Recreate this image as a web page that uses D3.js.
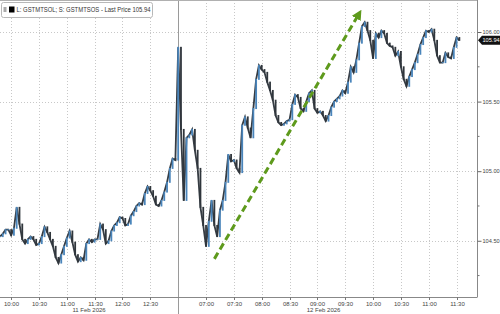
<!DOCTYPE html>
<html>
<head>
<meta charset="utf-8">
<script src="https://cdn.jsdelivr.net/npm/d3@7"></script>
<style>
body { margin: 0; background: #fff; }
svg { display: block; font-family: "Liberation Sans", Arial, sans-serif; }
</style>
</head>
<body>
<svg id="chart" width="500" height="314"></svg>
<script>
// two trading sessions shown back to back
var sessionDates = ["11 Feb 2026", "12 Feb 2026"];
var sessionStart = ["09:48", "06:30"];
var sessionEnd = ["13:00", "11:52"];
var barMinutes = 3;

// 3-minute closes
var day1Close = [104.53,104.55,104.58,104.58,104.54,104.59,104.74,104.62,104.51,104.48,
  104.51,104.53,104.51,104.47,104.48,104.53,104.60,104.56,104.51,104.46,
  104.38,104.34,104.40,104.46,104.52,104.57,104.49,104.40,104.35,104.38,
  104.36,104.48,104.51,104.49,104.51,104.51,104.62,104.58,104.48,104.50,
  104.57,104.61,104.63,104.67,104.66,104.61,104.62,104.68,104.71,104.75,
  104.77,104.76,104.84,104.89,104.86,104.82,104.76,104.75,104.79,104.85,
  104.92,105.02,105.09,105.08];
var day2Close = [105.89,105.30,104.79,105.24,105.26,105.30,105.15,105.02,104.74,104.61,
  104.46,104.64,104.79,104.61,104.53,104.72,104.79,104.92,105.12,105.07,
  105.08,105.02,104.99,105.33,105.39,105.31,105.24,105.45,105.66,105.76,
  105.73,105.71,105.64,105.58,105.51,105.40,105.35,105.33,105.34,105.36,
  105.37,105.48,105.55,105.53,105.45,105.43,105.50,105.56,105.58,105.45,
  105.42,105.43,105.40,105.36,105.40,105.46,105.50,105.52,105.54,105.58,
  105.56,105.64,105.75,105.71,105.80,105.92,106.04,106.07,106.01,105.94,
  105.81,105.99,105.96,106.01,105.99,105.92,105.90,105.89,105.83,105.86,
  105.75,105.66,105.61,105.68,105.73,105.78,105.84,105.91,105.96,106.01,
  106.00,106.02,105.94,105.83,105.78,105.78,105.85,105.82,105.81,105.89,
  105.96,105.94];

var day1Ticks = ["10:00","10:30","11:00","11:30","12:00","12:30"];
var day2Ticks = ["07:00","07:30","08:00","08:30","09:00","09:30","10:00","10:30","11:00","11:30"];
var yTicks = [104.5, 105.0, 105.5, 106.0];
var yMinorTicks = [104.25, 104.75, 105.25, 105.75];
var lastPrice = 105.94;
var legendText = "L: GSTMTSOL; S: GSTMTSOS - Last Price 105.94";

// trend arrow drawn on the chart: [session, time, price]
var arrowFrom = [1, "07:09", 104.37];
var arrowTo = [1, "09:43", 106.11];

var W = 500, H = 314;
var plotRight = 477, plotBottom = 297;

function toMin(s) {
    var p = s.split(":");
    return +p[0] * 60 + +p[1];
}

var sessionLen = sessionStart.map(function (s, i) { return toMin(sessionEnd[i]) - toMin(s); });
var sessionOffset = [0, sessionLen[0]];

// session index + clock time -> continuous minutes on the axis
function axisMin(session, time) {
    return sessionOffset[session] + toMin(time) - toMin(sessionStart[session]);
}

var x = d3.scaleLinear()
    .domain([0, sessionLen[0] + sessionLen[1]])
    .range([0, plotRight]);

var y = d3.scaleLinear()
    .domain([104.096, 106.23])
    .range([plotBottom, 0]);

var svg = d3.select("#chart");

// bars with open = previous close
var bars = [];
var prev = day1Close[0];
[day1Close, day2Close].forEach(function (closes, s) {
    closes.forEach(function (c, i) {
        bars.push({ m: sessionOffset[s] + i * barMinutes, open: prev, close: c });
        prev = c;
    });
});

// grid
var gridG = svg.append("g").attr("class", "grid");

gridG.selectAll(".hgrid")
    .data(yTicks)
    .enter()
    .append("line")
    .attr("class", "hgrid")
    .attr("x1", 0)
    .attr("x2", plotRight)
    .attr("y1", function (d) { return Math.round(y(d)) + 0.5; })
    .attr("y2", function (d) { return Math.round(y(d)) + 0.5; })
    .attr("stroke", "#c8c8c8")
    .attr("stroke-dasharray", "1,2");

var xTicks = [];
day1Ticks.forEach(function (t) { xTicks.push({ s: 0, t: t }); });
day2Ticks.forEach(function (t) { xTicks.push({ s: 1, t: t }); });

gridG.selectAll(".vgrid")
    .data(xTicks)
    .enter()
    .append("line")
    .attr("class", "vgrid")
    .attr("x1", function (d) { return Math.round(x(axisMin(d.s, d.t))) + 0.5; })
    .attr("x2", function (d) { return Math.round(x(axisMin(d.s, d.t))) + 0.5; })
    .attr("y1", 0)
    .attr("y2", plotBottom)
    .attr("stroke", "#c8c8c8")
    .attr("stroke-dasharray", "1,2");

// day separator
var sepX = Math.round(x(sessionOffset[1])) + 0.5;
svg.append("line")
    .attr("x1", sepX).attr("x2", sepX)
    .attr("y1", 0).attr("y2", H)
    .attr("stroke", "#9a9a9a");

// top border
svg.append("line")
    .attr("x1", 0).attr("x2", plotRight)
    .attr("y1", 0.5).attr("y2", 0.5)
    .attr("stroke", "#b0b0b0");

// price path under the candles
var line = d3.line()
    .x(function (d) { return x(d.m); })
    .y(function (d) { return y(d.close); });

svg.append("path")
    .datum(bars)
    .attr("d", line)
    .attr("fill", "none")
    .attr("stroke", "#363c43")
    .attr("stroke-width", 1.8)
    .attr("stroke-linejoin", "miter");

// candles
svg.append("g")
    .selectAll(".bar")
    .data(bars)
    .enter()
    .append("rect")
    .attr("class", "bar")
    .attr("x", function (d) { return x(d.m) - 0.9; })
    .attr("y", function (d) { return Math.min(y(d.open), y(d.close)) - 0.5; })
    .attr("width", 1.8)
    .attr("height", function (d) { return Math.abs(y(d.open) - y(d.close)) + 1; })
    .attr("fill", function (d) { return d.close >= d.open ? "#4a85bb" : "#30363c"; });

// trend arrow
svg.append("defs").append("marker")
    .attr("id", "head")
    .attr("viewBox", "0 0 10 10")
    .attr("refX", 2).attr("refY", 5)
    .attr("markerWidth", 3.4).attr("markerHeight", 3.4)
    .attr("orient", "auto")
    .append("path")
    .attr("d", "M0,0L10,5L0,10Z")
    .attr("fill", "#5e9a1c");

svg.append("line")
    .attr("x1", x(axisMin(arrowFrom[0], arrowFrom[1])))
    .attr("y1", y(arrowFrom[2]))
    .attr("x2", x(axisMin(arrowTo[0], arrowTo[1])))
    .attr("y2", y(arrowTo[2]))
    .attr("stroke", "#5e9a1c")
    .attr("stroke-width", 3)
    .attr("stroke-dasharray", "7,4")
    .attr("marker-end", "url(#head)");

// right axis
var yAxis = d3.axisRight(y)
    .tickValues(yTicks)
    .tickFormat(d3.format(".2f"))
    .tickSize(4)
    .tickPadding(1);

var yAxisG = svg.append("g")
    .attr("transform", "translate(" + (plotRight + 0.5) + ",0)")
    .call(yAxis);
yAxisG.select(".domain").attr("d", "M0,0V" + plotBottom).attr("stroke", "#888");
yAxisG.selectAll(".tick line").attr("stroke", "#666");
yAxisG.selectAll(".tick text").attr("font-size", 5.6).attr("fill", "#444")
    .attr("font-family", "Liberation Sans, Arial, sans-serif");

yAxisG.selectAll(".minor")
    .data(yMinorTicks)
    .enter()
    .append("line")
    .attr("class", "minor")
    .attr("x1", 0).attr("x2", 2)
    .attr("y1", function (d) { return y(d); })
    .attr("y2", function (d) { return y(d); })
    .attr("stroke", "#777");

// last price tag
var ly = y(lastPrice);
svg.append("path")
    .attr("d", "M" + (plotRight + 1) + "," + ly + "L" + (plotRight + 5) + "," + (ly - 4.5) +
        "H500V" + (ly + 4.5) + "H" + (plotRight + 5) + "Z")
    .attr("fill", "#111");
svg.append("text")
    .attr("x", plotRight + 5.5)
    .attr("y", ly + 2)
    .attr("font-size", 5.6)
    .attr("fill", "#fff")
    .text(d3.format(".2f")(lastPrice));

// bottom axis
svg.append("line")
    .attr("x1", 0).attr("x2", plotRight + 0.5)
    .attr("y1", plotBottom + 0.5).attr("y2", plotBottom + 0.5)
    .attr("stroke", "#888");

var xt = svg.append("g").selectAll(".xtick")
    .data(xTicks)
    .enter()
    .append("g")
    .attr("class", "xtick")
    .attr("transform", function (d) {
        return "translate(" + (Math.round(x(axisMin(d.s, d.t))) + 0.5) + "," + plotBottom + ")";
    });
xt.append("line").attr("y1", 0).attr("y2", 3).attr("stroke", "#777");
xt.append("text")
    .attr("y", 9)
    .attr("text-anchor", "middle")
    .attr("font-size", 6)
    .attr("fill", "#444")
    .text(function (d) { return d.t; });

svg.selectAll(".dateLabel")
    .data(sessionDates)
    .enter()
    .append("text")
    .attr("class", "dateLabel")
    .attr("x", function (d, i) {
        return i == 0 ? x(sessionOffset[1]) / 2 : (x(sessionOffset[1]) + plotRight) / 2 - 4;
    })
    .attr("y", 312)
    .attr("text-anchor", "middle")
    .attr("font-size", 6)
    .attr("fill", "#444")
    .text(function (d) { return d; });

// legend box
var lg = svg.append("g");
lg.append("rect")
    .attr("x", 1.5).attr("y", 2.5)
    .attr("width", 151).attr("height", 15)
    .attr("rx", 2)
    .attr("fill", "#fff")
    .attr("stroke", "#b8b8b8");
lg.append("rect").attr("x", 3.5).attr("y", 7).attr("width", 3).attr("height", 5).attr("fill", "#aaa");
lg.append("rect").attr("x", 9).attr("y", 6.5).attr("width", 5.5).attr("height", 6).attr("fill", "#000");
lg.append("text")
    .attr("x", 16.5)
    .attr("y", 12.2)
    .attr("font-size", 6.6)
    .attr("fill", "#333")
    .attr("textLength", 134)
    .attr("lengthAdjust", "spacingAndGlyphs")
    .text(legendText);
</script>
</body>
</html>
